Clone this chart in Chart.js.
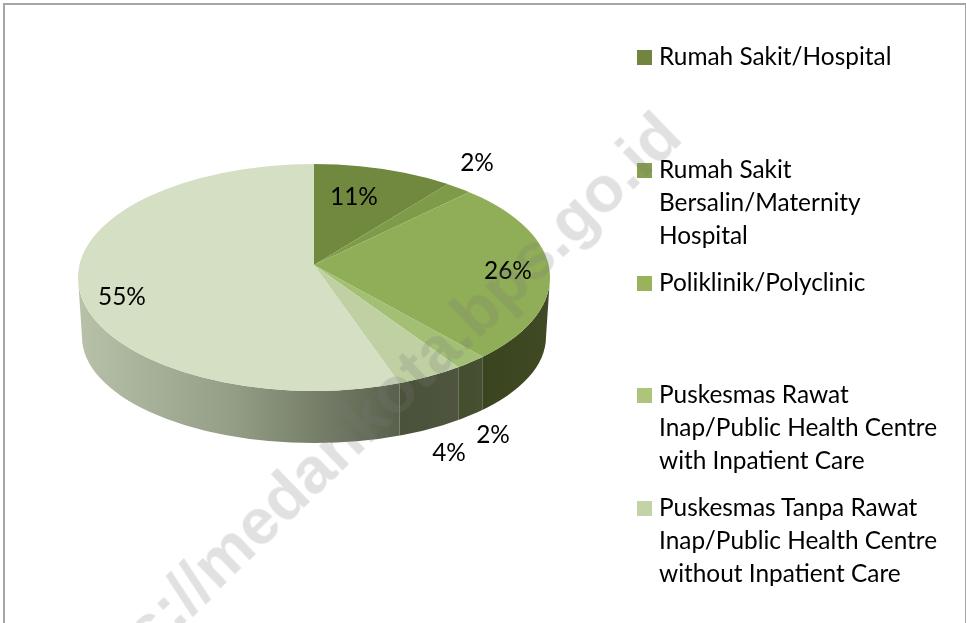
<!DOCTYPE html>
<html>
<head>
<meta charset="utf-8">
<title>Pie</title>
<script src="https://cdn.jsdelivr.net/npm/chart.js@4"></script>
<style>
  html, body { margin: 0; padding: 0; background: #fff; overflow: hidden; }
  #wrap { position: relative; width: 966px; height: 623px; overflow: hidden; }
  #frame { position: absolute; left: 3px; top: 3px; width: 960px; height: 640px; border: 2px solid #a6a6a6; }
  canvas { position: absolute; left: 0; top: 0; }
  .row { position: absolute; left: 659px; font: 24.4px/33px Lato, sans-serif; color: #000; white-space: nowrap; }
  .box { position: absolute; left: -22px; top: 11px; width: 15px; height: 15px; }
  #mark { position: absolute; left: 682px; top: 137px; width: 0; height: 0; transform: rotate(-44deg); }
  #mark span { position: absolute; right: 0; bottom: -14px; font: bold 65px/1 "Liberation Sans", sans-serif; color: rgba(120,120,120,0.22); white-space: nowrap; }
</style>
</head>
<body>
<div id="wrap">
  <div id="frame"></div>
  <canvas id="pie" width="966" height="623"></canvas>
  <div id="legend"></div>
  <div id="mark"><span>https://medankota.bps.go.id</span></div>
</div>
<script>
// data, the sixth legend entry is cut off at the bottom of the picture
var categories = [
  ["Rumah Sakit/Hospital"],
  ["Rumah Sakit", "Bersalin/Maternity", "Hospital"],
  ["Poliklinik/Polyclinic"],
  ["Puskesmas Rawat", "Inap/Public Health Centre", "with Inpatient Care"],
  ["Puskesmas Tanpa Rawat", "Inap/Public Health Centre", "without Inpatient Care"]
];
var shares = [11, 2, 26, 2, 4, 55];

// styles
var faceColors = ["#71883f", "#7d9b48", "#8fae57", "#a3bf74", "#bfd1a2", "#d4dfc3"];
var swatchColors = ["#718540", "#86a14d", "#9ab25b", "#adc47a", "#c2d3a5"];
var wallColors = [null, null, ["#404b25", "#3a4520"], ["#465032", "#434e2e"], ["#4f5540", "#4a523a"], ["#59614c", "#939c85", "#b9c3aa"]];
var legendMiddles = [55.5, 168.5, 281.5, 393.5, 506.5];
var labelSpots = [[354, 197], [477, 163], [508, 271], [493, 435], [449, 453], [122, 297]];

// geometry of the tilted pie on the page
var apex = { x: 314, y: 265 };
var top3d = { x: 314, y: 277.5, rx: 236, ry: 113.5 };
var bottom3d = { x: 314, y: 337, rx: 232, ry: 106 };
var squashUp = 0.5, squashDown = 0.45;

// legend
var legendDiv = document.getElementById("legend");
categories.forEach(function(lines, i) {
  var row = document.createElement("div");
  row.className = "row";
  row.style.top = (legendMiddles[i] - 16.5) + "px";
  row.innerHTML = '<div class="box" style="background:' + swatchColors[i] + '"></div>' + lines.join("<br>");
  legendDiv.appendChild(row);
});

function rimX(angle) {
  if (angle <= 0) return top3d.x + top3d.rx + 6;
  if (angle >= Math.PI) return top3d.x - top3d.rx - 6;
  var dx = Math.cos(angle), dy = Math.sin(angle) * squashDown;
  var ox = apex.x - top3d.x, oy = apex.y - top3d.y;
  var a = dx * dx / (top3d.rx * top3d.rx) + dy * dy / (top3d.ry * top3d.ry);
  var b = 2 * (ox * dx / (top3d.rx * top3d.rx) + oy * dy / (top3d.ry * top3d.ry));
  var c = ox * ox / (top3d.rx * top3d.rx) + oy * oy / (top3d.ry * top3d.ry) - 1;
  var t = (-b + Math.sqrt(b * b - 4 * a * c)) / (2 * a);
  return apex.x + t * dx;
}

function drawWall(ctx, arcs) {
  ctx.save();
  ctx.beginPath();
  ctx.ellipse(top3d.x, top3d.y, top3d.rx, top3d.ry, 0, 0, Math.PI, false);
  ctx.ellipse(bottom3d.x, bottom3d.y, bottom3d.rx, bottom3d.ry, 0, Math.PI, 0, true);
  ctx.closePath();
  ctx.clip();
  arcs.forEach(function(arc, i) {
    var a0 = Math.max(arc.startAngle, 0), a1 = Math.min(arc.endAngle, Math.PI);
    if (a1 <= a0 || !wallColors[i]) return;
    var xRight = rimX(a0), xLeft = rimX(a1);
    var grad = ctx.createLinearGradient(xRight, 0, xLeft, 0);
    wallColors[i].forEach(function(c, k) {
      grad.addColorStop(k / (wallColors[i].length - 1), c);
    });
    ctx.fillStyle = grad;
    ctx.fillRect(xLeft, 200, xRight - xLeft, 300);
  });
  ctx.restore();
}

// the arcs are drawn by the library, squashed and clipped to the tilted rim
function drawFace(ctx, chart, arcs, yFrom, yTo, squash) {
  var arc0 = arcs[0];
  ctx.save();
  ctx.beginPath();
  ctx.ellipse(top3d.x, top3d.y, top3d.rx, top3d.ry, 0, 0, Math.PI * 2);
  ctx.clip();
  ctx.beginPath();
  ctx.rect(0, yFrom, chart.width, yTo - yFrom);
  ctx.clip();
  ctx.translate(apex.x - arc0.x, apex.y - arc0.y * squash);
  ctx.scale(1, squash);
  arcs.forEach(function(arc) { arc.draw(ctx); });
  ctx.restore();
}

var pie3d = {
  id: "pie3d",
  beforeDatasetsDraw: function(chart) {
    var ctx = chart.ctx;
    var arcs = chart.getDatasetMeta(0).data;
    drawWall(ctx, arcs);
    drawFace(ctx, chart, arcs, 0, apex.y, squashUp);
    drawFace(ctx, chart, arcs, apex.y, chart.height, squashDown);
    return false;
  },
  afterDraw: function(chart) {
    var ctx = chart.ctx;
    ctx.save();
    ctx.font = "24.4px Lato, sans-serif";
    ctx.fillStyle = "#000";
    ctx.textAlign = "center";
    ctx.textBaseline = "middle";
    shares.forEach(function(v, i) {
      ctx.fillText(v + "%", labelSpots[i][0], labelSpots[i][1]);
    });
    ctx.restore();
  }
};

new Chart(document.getElementById("pie"), {
  type: "pie",
  data: {
    labels: categories.map(function(c) { return c.join(" "); }).concat([""]),
    datasets: [{
      data: shares,
      backgroundColor: faceColors,
      borderWidth: 0
    }]
  },
  options: {
    responsive: false,
    animation: false,
    plugins: { legend: { display: false }, tooltip: { enabled: false } }
  },
  plugins: [pie3d]
});
</script>
</body>
</html>
